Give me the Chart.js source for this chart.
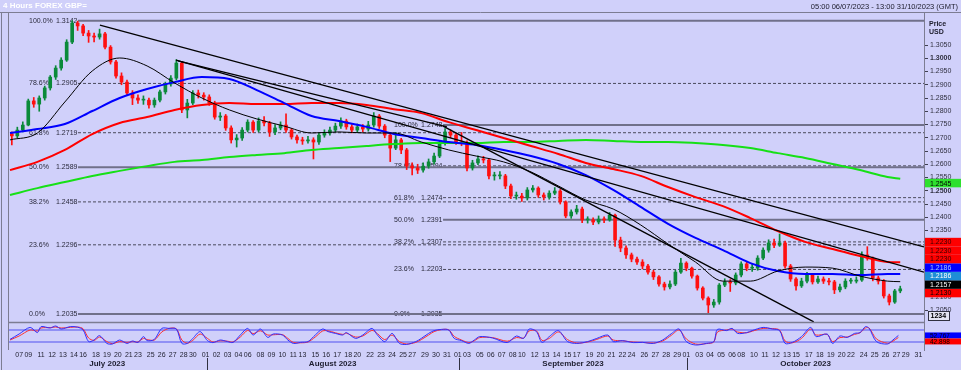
<!DOCTYPE html>
<html>
<head>
<meta charset="utf-8">
<script src="https://cdn.jsdelivr.net/npm/chart.js@4.4.0/dist/chart.umd.min.js"></script>
<style>
  html, body { margin: 0; padding: 0; background: #d0d0fa; }
  #wrap { width: 961px; height: 370px; }
</style>
</head>
<body>
<div id="wrap"><canvas id="myChart" width="961" height="370"></canvas></div>
<script>
// x axis unit: 4-hour bar index counted from 05:00 06/07/2023 (weekends skipped)
const X_MIN = -1.094, X_MAX = 500;

// half-day candles (3 bars each), open = previous close
const firstOpen = 1.2715;
const closes = [1.2707,1.2729,1.2748,1.2839,1.2827,1.2850,1.2888,1.2929,1.2963,1.2993,
  1.3061,1.3133,1.3122,1.3095,1.3084,1.3080,1.3092,1.3042,1.2986,1.2933,
  1.2910,1.2869,1.2850,1.2842,1.2842,1.2824,1.2842,1.2873,1.2903,1.2925,
  1.2982,1.2805,1.2831,1.2869,1.2861,1.2854,1.2831,1.2778,1.2782,1.2737,
  1.2692,1.2699,1.2729,1.2759,1.2729,1.2763,1.2756,1.2722,1.2737,1.2748,
  1.2729,1.2703,1.2692,1.2688,1.2692,1.2684,1.2710,1.2718,1.2729,1.2744,
  1.2763,1.2741,1.2729,1.2741,1.2733,1.2748,1.2782,1.2744,1.2710,1.2661,
  1.2692,1.2654,1.2593,1.2586,1.2578,1.2593,1.2609,1.2631,1.2680,1.2722,
  1.2710,1.2684,1.2680,1.2586,1.2605,1.2620,1.2616,1.2556,1.2556,1.2556,
  1.2518,1.2480,1.2480,1.2473,1.2503,1.2510,1.2484,1.2476,1.2491,1.2499,
  1.2458,1.2405,1.2420,1.2431,1.2390,1.2390,1.2382,1.2393,1.2390,1.2408,
  1.2314,1.2284,1.2258,1.2242,1.2231,1.2216,1.2193,1.2175,1.2148,1.2137,
  1.2148,1.2193,1.2227,1.2208,1.2178,1.2133,1.2095,1.2069,1.2080,1.2144,
  1.2156,1.2152,1.2182,1.2224,1.2208,1.2208,1.2246,1.2276,1.2303,1.2295,
  1.2303,1.2216,1.2167,1.2141,1.2159,1.2182,1.2156,1.2167,1.2159,1.2156,
  1.2126,1.2137,1.2159,1.2159,1.2163,1.2258,1.2246,1.2171,1.2159,1.2103,
  1.2080,1.2122,1.2130];
const highs = [1.2722,1.2740,1.2760,1.2846,1.2852,1.2858,1.2895,1.2935,1.2972,1.3002,
  1.3070,1.3142,1.3140,1.3128,1.3105,1.3095,1.3110,1.3098,1.3048,1.2992,
  1.2945,1.2918,1.2878,1.2862,1.2858,1.2850,1.2850,1.2880,1.2910,1.2935,
  1.2995,1.2988,1.2845,1.2878,1.2880,1.2870,1.2862,1.2838,1.2795,1.2788,
  1.2745,1.2712,1.2738,1.2768,1.2765,1.2775,1.2780,1.2762,1.2750,1.2760,
  1.2790,1.2735,1.2710,1.2702,1.2705,1.2700,1.2718,1.2730,1.2740,1.2755,
  1.2775,1.2770,1.2750,1.2752,1.2750,1.2762,1.2795,1.2788,1.2750,1.2718,
  1.2720,1.2698,1.2660,1.2605,1.2600,1.2605,1.2620,1.2642,1.2690,1.2735,
  1.2730,1.2718,1.2720,1.2688,1.2615,1.2632,1.2630,1.2622,1.2570,1.2572,
  1.2562,1.2525,1.2495,1.2490,1.2512,1.2520,1.2515,1.2492,1.2500,1.2512,
  1.2505,1.2462,1.2428,1.2445,1.2438,1.2402,1.2398,1.2405,1.2402,1.2418,
  1.2412,1.2325,1.2292,1.2265,1.2250,1.2240,1.2222,1.2200,1.2180,1.2155,
  1.2160,1.2200,1.2245,1.2232,1.2212,1.2182,1.2138,1.2100,1.2090,1.2150,
  1.2168,1.2165,1.2190,1.2232,1.2230,1.2222,1.2255,1.2285,1.2315,1.2318,
  1.2337,1.2310,1.2222,1.2172,1.2170,1.2192,1.2188,1.2178,1.2175,1.2170,
  1.2162,1.2148,1.2168,1.2170,1.2175,1.2270,1.2289,1.2250,1.2178,1.2165,
  1.2110,1.2128,1.2140];
const lows = [1.2673,1.2700,1.2722,1.2745,1.2815,1.2800,1.2842,1.2880,1.2920,1.2955,
  1.2988,1.3055,1.3105,1.3085,1.3060,1.3062,1.3072,1.3035,1.2978,1.2925,
  1.2900,1.2860,1.2825,1.2830,1.2826,1.2812,1.2815,1.2835,1.2865,1.2895,
  1.2918,1.2795,1.2775,1.2825,1.2850,1.2842,1.2822,1.2770,1.2765,1.2728,
  1.2680,1.2665,1.2690,1.2722,1.2720,1.2722,1.2745,1.2705,1.2712,1.2730,
  1.2720,1.2695,1.2680,1.2675,1.2680,1.2620,1.2675,1.2702,1.2710,1.2722,
  1.2735,1.2732,1.2718,1.2720,1.2722,1.2725,1.2740,1.2735,1.2700,1.2610,
  1.2655,1.2640,1.2580,1.2560,1.2565,1.2570,1.2585,1.2600,1.2625,1.2672,
  1.2700,1.2675,1.2670,1.2575,1.2578,1.2598,1.2605,1.2545,1.2540,1.2545,
  1.2508,1.2470,1.2468,1.2460,1.2465,1.2495,1.2475,1.2465,1.2468,1.2485,
  1.2450,1.2398,1.2396,1.2412,1.2380,1.2378,1.2372,1.2375,1.2380,1.2385,
  1.2290,1.2270,1.2245,1.2232,1.2222,1.2205,1.2185,1.2165,1.2140,1.2125,
  1.2130,1.2142,1.2188,1.2198,1.2170,1.2125,1.2088,1.2040,1.2060,1.2072,
  1.2138,1.2120,1.2145,1.2175,1.2198,1.2196,1.2200,1.2240,1.2268,1.2285,
  1.2290,1.2208,1.2158,1.2125,1.2135,1.2152,1.2148,1.2150,1.2150,1.2145,
  1.2112,1.2118,1.2130,1.2150,1.2152,1.2158,1.2238,1.2160,1.2148,1.2095,
  1.2069,1.2075,1.2115];

// moving averages, sampled every 15 bars
const maIdx = [0,15,30,45,60,75,90,105,120,135,150,165,180,195,210,225,240,255,270,285,
  300,315,330,345,360,375,390,405,420,435,450,465,480,487];
const maBlack = [1.2692,1.2718,1.2835,1.2952,1.3001,1.2971,1.2907,1.2850,1.2805,1.2771,1.2744,1.2718,1.2722,1.2718,1.2718,1.2684,1.2654,
  1.2631,1.2609,1.2571,1.2518,1.2465,1.2431,1.2371,1.2299,1.2231,1.2159,1.2159,1.2197,1.2212,1.2208,1.2178,1.2159,1.2157];
const maBlue = [1.2718,1.2733,1.2752,1.2801,1.2850,1.2884,1.2910,1.2929,1.2922,1.2880,1.2831,1.2782,1.2763,1.2741,1.2714,1.2699,1.2684,
  1.2673,1.2654,1.2631,1.2601,1.2559,1.2503,1.2439,1.2375,1.2322,1.2276,1.2227,1.2197,1.2186,1.2186,1.2182,1.2186,1.2186];
const maRed = [1.2578,1.2609,1.2654,1.2714,1.2756,1.2778,1.2805,1.2824,1.2831,1.2827,1.2827,1.2831,1.2831,1.2824,1.2808,1.2793,1.2759,
  1.2729,1.2699,1.2669,1.2639,1.2605,1.2582,1.2556,1.2514,1.2476,1.2442,1.2397,1.2348,1.2307,1.2280,1.2254,1.2231,1.2230];
const maGreen = [1.2484,1.2510,1.2533,1.2556,1.2575,1.2593,1.2609,1.2616,1.2627,1.2635,1.2642,1.2654,1.2661,1.2669,1.2676,1.2680,1.2680,
  1.2680,1.2684,1.2684,1.2688,1.2692,1.2688,1.2684,1.2684,1.2680,1.2673,1.2661,1.2642,1.2624,1.2601,1.2578,1.2552,1.2545];

// fibonacci retracements
const fibPct = ['100.0%','78.6%','61.8%','50.0%','38.2%','23.6%','0.0%'];
const fib1Val = [1.3142,1.2905,1.2719,1.2589,1.2458,1.2296,1.2035];
const fib2Val = [1.2748,1.2594,1.2474,1.2391,1.2307,1.2203,1.2035];
const fib1From = 37.2, fib2From = 236.9;

// trend lines [bar, price] -> [bar, price]
const trendFrom = [[49.2,1.3125],[90.8,1.2993],[236.9,1.2744],[91.9,1.2990]];
const trendTo   = [[500,1.2288],[500,1.2193],[439.7,1.2005],[239,1.2741]];

// oscillator (lower panel)
const oscX = [0,5,11,15,17,22,25,28,33,37,40,43,46,49,53,56,60,64,67,70,73,75,79,83,87,91,94,97,100,104,
  108,111,115,119,122,126,130,133,137,141,144,149,152,155,159,163,167,171,174,178,182,184,189,193,198,201,205,209,213,217,
  222,225,229,232,236,240,243,247,251,254,257,264,272,277,281,284,288,291,295,300,305,310,316,321,327,330,335,341,346,352,
  357,362,366,370,375,381,385,387,392,395,398,403,406,412,417,421,424,428,433,438,441,447,450,454,458,462,465,468,470,474,
  480,483,486];
const oscBlue = [33,60,93,67,97,90,100,85,97,94,80,22,30,52,13,10,30,13,25,18,47,27,33,88,88,85,13,13,38,72,
  27,17,30,22,18,55,88,55,85,43,60,55,30,13,18,22,55,85,72,63,55,67,38,55,88,55,22,63,13,8,
  22,38,63,77,83,80,38,27,13,30,47,40,17,50,38,85,72,18,47,77,22,13,22,38,55,22,27,17,18,13,
  30,63,85,22,5,13,22,83,77,88,63,67,77,93,85,77,13,18,47,93,47,60,13,50,43,63,67,97,88,22,
  10,30,53];
const oscRed = [30,50,80,75,90,92,95,90,93,95,86,40,28,45,22,12,22,18,22,20,38,32,30,70,88,86,30,14,28,60,
  38,20,26,24,20,45,78,62,76,55,56,57,38,18,16,20,45,75,76,66,58,64,45,50,78,62,32,55,22,10,
  18,32,55,72,82,81,48,30,17,26,42,42,24,42,40,75,76,28,38,70,32,15,20,33,50,30,26,20,18,15,
  25,55,80,35,10,12,20,70,80,85,70,66,74,88,87,80,25,16,38,85,55,58,22,42,45,58,66,90,90,35,
  14,24,43];
const oscBands = [80, 20];

// axis labels
const priceTicks = [1.2050,1.2100,1.2150,1.2200,1.2250,1.2300,1.2350,1.2400,1.2450,1.2500,1.2550,
  1.2600,1.2650,1.2700,1.2750,1.2800,1.2850,1.2900,1.2950,1.3000,1.3050];
const dayIdx = [5,10,17,23,29,35,40,47,53,59,65,70,77,83,89,95,100,
  107,113,119,125,130,137,143,149,155,160,167,173,179,185,190,197,203,209,215,220,227,233,239,
  245,250,257,263,269,275,280,287,293,299,305,310,317,323,329,335,340,347,353,359,365,
  370,377,383,389,395,400,407,413,419,425,430,437,443,449,455,460,467,473,479,485,490,497];
const dayLbl = ['07','09','11','12','13','14','16','18','19','20','21','23','25','26','27','28','30',
  '01','02','03','04','06','08','09','10','11','13','15','16','17','18','20','22','23','24','25','27','29','30','31',
  '01','03','05','06','07','08','10','12','13','14','15','17','19','20','21','22','24','26','27','28','29',
  '01','03','04','05','06','08','10','11','12','13','15','17','18','19','20','22','24','25','26','27','29','31'];
const monthLbl = ['July 2023','August 2023','September 2023','October 2023'];
const monthStart = [107, 245, 370];

// right-hand value tags
const tagVals = [1.2545,1.2230,1.2230,1.2230,1.2186,1.2186,1.2157,1.2130];
const tagBg = ['#2ee02e','#ff0000','#ff0000','#ff0000','#1e8ed6','#0000ff','#000000','#ff0000'];
const tagFg = ['#000000','#300000','#300000','#300000','#ffffff','#a0c8ff','#ffffff','#000000'];
const oscTagVals = [52.767, 42.898];
const oscTagBg = ['#0000ff','#ff0000'];

const BG = '#d0d0fa', FRAME = '#7c7c92';
const UP = '#0b8a3a', DOWN = '#ff1010';
const FONT = '"Liberation Sans", Arial, sans-serif';

const candleX = closes.map((c, i) => 3 * i + 1);
const opens = closes.map((c, i) => i === 0 ? firstOpen : closes[i - 1]);
const candleCol = closes.map((c, i) => c >= opens[i] ? UP : DOWN);

function seg(x0, y0, x1, y1) { return [{x: x0, y: y0}, {x: x1, y: y1}]; }
function pts(xs, ys) { return xs.map((x, i) => ({x: x, y: ys[i]})); }
function isSolid(p) { return p === '100.0%' || p === '50.0%' || p === '0.0%'; }

let datasets = [];
fib1Val.forEach((v, i) => datasets.push({
  type: 'line', data: seg(fib1From, v, X_MAX, v), yAxisID: 'y', order: 20,
  borderColor: isSolid(fibPct[i]) ? '#70708a' : '#4a4a5c', borderWidth: isSolid(fibPct[i]) ? 2 : 1,
  borderDash: isSolid(fibPct[i]) ? [] : [3, 2], pointRadius: 0
}));
fib2Val.forEach((v, i) => datasets.push({
  type: 'line', data: seg(fib2From, v, X_MAX, v), yAxisID: 'y', order: 20,
  borderColor: isSolid(fibPct[i]) ? '#70708a' : '#4a4a5c', borderWidth: isSolid(fibPct[i]) ? 2 : 1,
  borderDash: isSolid(fibPct[i]) ? [] : [3, 2], pointRadius: 0
}));
oscBands.forEach(v => datasets.push({
  type: 'line', data: seg(X_MIN, v, X_MAX, v), yAxisID: 'yOsc', order: 20,
  borderColor: '#5050f0', borderWidth: 1, pointRadius: 0
}));
datasets.push({
  type: 'bar', data: closes.map((c, i) => ({x: candleX[i], y: [lows[i], highs[i]]})),
  yAxisID: 'y', backgroundColor: candleCol, barThickness: 1, grouped: false, order: 10
});
datasets.push({
  type: 'bar', data: closes.map((c, i) => ({x: candleX[i], y: [opens[i], c]})),
  yAxisID: 'y', backgroundColor: candleCol, barThickness: 3, minBarLength: 1, grouped: false, order: 9
});
[[maGreen, '#16e016', 2, 8], [maRed, '#ff0000', 2, 7], [maBlue, '#0000ff', 2, 6], [maBlack, '#000000', 1, 5]]
  .forEach(m => datasets.push({
    type: 'line', data: pts(maIdx, m[0]), yAxisID: 'y', borderColor: m[1], borderWidth: m[2],
    pointRadius: 0, cubicInterpolationMode: 'monotone', order: m[3]
  }));
trendFrom.forEach((a, i) => datasets.push({
  type: 'line', data: seg(a[0], a[1], trendTo[i][0], trendTo[i][1]), yAxisID: 'y',
  borderColor: '#000000', borderWidth: 1.3, pointRadius: 0, order: 4
}));
datasets.push({type: 'line', data: pts(oscX, oscRed), yAxisID: 'yOsc', borderColor: '#ff3030',
  borderWidth: 1, pointRadius: 0, tension: 0.3, order: 3});
datasets.push({type: 'line', data: pts(oscX, oscBlue), yAxisID: 'yOsc', borderColor: '#3030ff',
  borderWidth: 1, pointRadius: 0, tension: 0.3, order: 2});

function line(c, x0, y0, x1, y1, col, w) {
  c.strokeStyle = col; c.lineWidth = w; c.beginPath(); c.moveTo(x0, y0); c.lineTo(x1, y1); c.stroke();
}

const deco = {
  id: 'deco',
  beforeDraw(chart) {
    const c = chart.ctx;
    c.save();
    c.fillStyle = BG; c.fillRect(0, 0, chart.width, chart.height);
    c.textBaseline = 'middle';
    c.font = 'bold 8px ' + FONT; c.fillStyle = '#ffffff';
    c.fillText('4 Hours FOREX GBP=', 3, 6);
    c.font = '7.5px ' + FONT; c.fillStyle = '#202030'; c.textAlign = 'right';
    c.fillText('05:00 06/07/2023 - 13:00 31/10/2023 (GMT)', 958, 7);
    c.restore();
  },
  beforeDatasetsDraw(chart) {
    const c = chart.ctx, xs = chart.scales.x, ys = chart.scales.y;
    c.save();
    c.font = '7px ' + FONT; c.fillStyle = '#2a2a3c'; c.textBaseline = 'middle';
    [[fib1Val, fib1From], [fib2Val, fib2From]].forEach(f => {
      const x0 = xs.getPixelForValue(f[1]);
      f[0].forEach((v, i) => {
        const py = ys.getPixelForValue(v);
        c.fillText(fibPct[i], x0 - 49, py);
        c.fillText(v.toFixed(4), x0 - 22, py);
      });
    });
    c.restore();
  },
  afterDraw(chart) {
    const c = chart.ctx, a = chart.chartArea, xs = chart.scales.x, ys = chart.scales.y, yo = chart.scales.yOsc;
    c.save();
    // frames
    line(c, 0, 12.5, 961, 12.5, FRAME, 1);
    line(c, 1.5, 12, 1.5, 370, FRAME, 1);
    line(c, a.left + 0.5, a.top, a.left + 0.5, a.bottom, FRAME, 1);
    line(c, a.left, 322.5, a.right, 322.5, FRAME, 1.5);
    // price header
    c.font = 'bold 7px ' + FONT; c.fillStyle = '#202030'; c.textBaseline = 'middle';
    c.fillText('Price', 929, 24); c.fillText('USD', 929, 32);
    // value tags, stacked upward when they collide
    c.font = '7px ' + FONT;
    const order = tagVals.map((v, i) => i).sort((p, q) => tagVals[p] - tagVals[q]);
    const H = 8.5;
    let prevTop = Infinity;
    order.forEach(i => {
      let top = ys.getPixelForValue(tagVals[i]);
      if (top + H > prevTop) top = prevTop - H;
      prevTop = top;
      c.fillStyle = tagBg[i]; c.fillRect(925, top, 36, H);
      c.fillStyle = tagFg[i]; c.fillText(tagVals[i].toFixed(4), 930, top + H / 2 + 0.5);
    });
    // oscillator tags
    c.font = '6.5px ' + FONT;
    let prevBottom = -Infinity;
    oscTagVals.forEach((v, i) => {
      let top = yo.getPixelForValue(v) - 3;
      if (top < prevBottom) top = prevBottom;
      prevBottom = top + 6;
      c.fillStyle = oscTagBg[i]; c.fillRect(925, top, 36, 6);
      c.fillStyle = '#000000'; c.fillText(v.toFixed(3), 930, top + 3.3);
    });
    // small button
    c.fillStyle = '#e4e4f2'; c.fillRect(928.5, 311.5, 21, 9);
    c.strokeStyle = '#303040'; c.lineWidth = 1; c.strokeRect(928.5, 311.5, 21, 9);
    c.font = 'bold 7px ' + FONT; c.fillStyle = '#000000'; c.fillText('1234', 930.5, 316.3);
    // month labels
    const edges = [a.left].concat(monthStart.map(v => xs.getPixelForValue(v + 0.5)), [a.right]);
    c.font = 'bold 8px ' + FONT; c.textAlign = 'center'; c.fillStyle = '#1e1e30';
    monthLbl.forEach((m, i) => c.fillText(m, (edges[i] + edges[i + 1]) / 2, 364));
    monthStart.forEach(v => {
      const px = Math.round(xs.getPixelForValue(v + 0.5)) + 0.5;
      line(c, px, 358, px, 370, '#303040', 1);
    });
    c.restore();
  }
};

new Chart('myChart', {
  type: 'bar',
  data: {datasets: datasets},
  options: {
    responsive: false,
    animation: false,
    devicePixelRatio: 1,
    layout: {padding: {left: 8, top: 13, right: 0, bottom: 0}},
    plugins: {legend: {display: false}, tooltip: {enabled: false}},
    scales: {
      x: {
        type: 'linear', min: X_MIN, max: X_MAX, offset: false,
        afterBuildTicks: s => { s.ticks = dayIdx.map(v => ({value: v})); },
        afterFit: s => { s.height = 20; },
        grid: {display: false, drawTicks: false, tickLength: 0}, border: {display: false},
        ticks: {autoSkip: false, maxRotation: 0, padding: 1, color: '#1e1e2e',
          font: {family: FONT, size: 7}, callback: (v, i) => dayLbl[i]}
      },
      y: {
        position: 'right', min: 1.18991, max: 1.31708,
        afterBuildTicks: s => { s.ticks = priceTicks.map(v => ({value: v})); },
        afterFit: s => { s.width = 37; },
        grid: {drawOnChartArea: false, drawTicks: true, tickLength: 4, color: '#404052'},
        border: {display: true, color: FRAME, width: 1},
        ticks: {color: '#303040', padding: 2,
          font: ctx => ({family: FONT, size: 7,
            weight: ctx.tick && (Math.abs(ctx.tick.value - 1.25) < 1e-6 || Math.abs(ctx.tick.value - 1.3) < 1e-6) ? 'bold' : 'normal'}),
          callback: v => v.toFixed(4)}
      },
      yOsc: {display: false, min: -20, max: 1665}
    }
  },
  plugins: [deco]
});
</script>
</body>
</html>
